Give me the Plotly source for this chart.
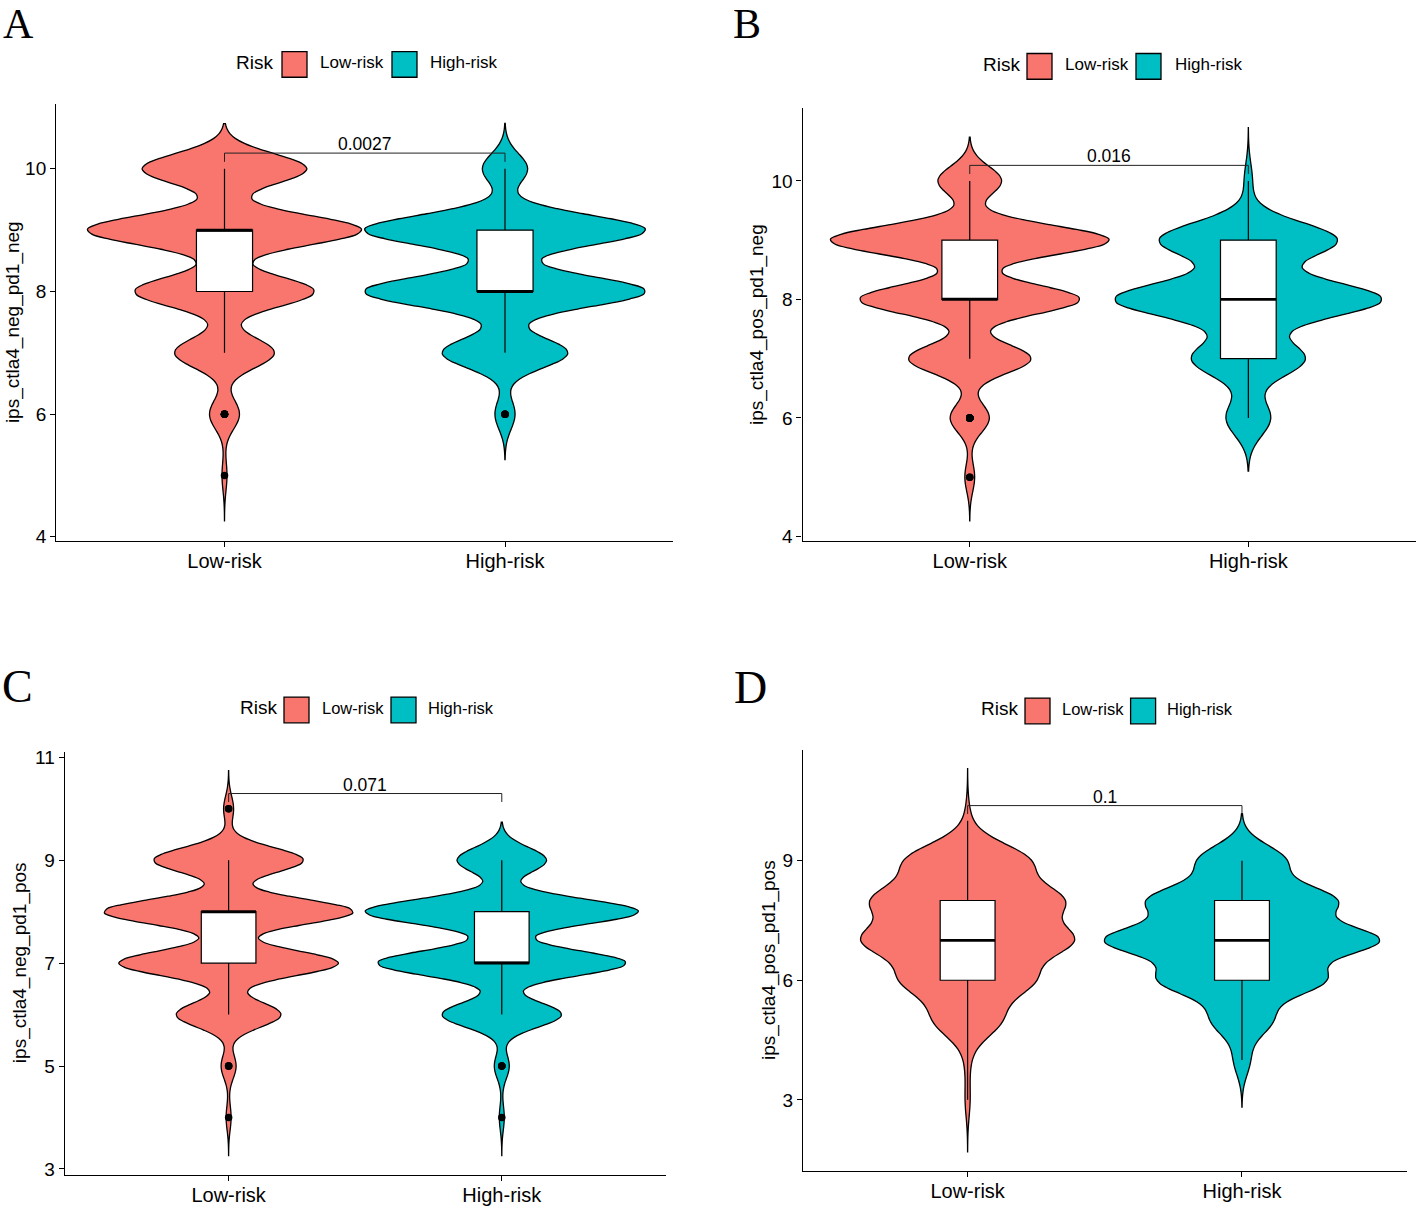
import numpy as np
import plotly.graph_objects as go

# ---------------- data ----------------
categories = ["Low-risk", "High-risk"]
score_levels = [3, 4, 5, 6, 7, 8, 9, 10]

# number of patients at each IPS score (estimated from violin widths / boxes)
a_low_counts = [0, 0, 1, 6, 20, 36, 55, 33]
a_high_counts = [0, 0, 0, 4, 25, 56, 56, 9]
b_low_counts = [0, 0, 2, 8, 25, 45, 57, 13]
b_high_counts = [0, 0, 0, 11, 28, 66, 44, 2]
c_low_counts = [0, 1, 3, 21, 44, 50, 30, 2]
c_high_counts = [0, 1, 3, 24, 50, 55, 18, 0]
d_low_counts = [1, 1, 13, 25, 40, 36, 24, 1]
d_high_counts = [0, 3, 11, 30, 50, 34, 16, 0]

y_titles = ["ips_ctla4_neg_pd1_neg", "ips_ctla4_pos_pd1_neg",
            "ips_ctla4_neg_pd1_pos", "ips_ctla4_pos_pd1_pos"]
p_values = ["0.0027", "0.016", "0.071", "0.1"]
panel_letters = ["A", "B", "C", "D"]
y_tick_starts = [0, 0, 1, 0]
y_tick_steps = [2, 2, 2, 3]

colors = ["#F8766D", "#00BFC4"]

W, H = 1416, 1208

# pixel layout of each panel: plot area x0, x1, y_top, y_bottom
panel_px = [
    (56.2, 673.3, 99.6, 541.0),
    (802.6, 1415.5, 104.0, 541.0),
    (64.7, 665.7, 754.0, 1181.5),
    (803.0, 1406.6, 752.0, 1177.8),
]
# legend geometry: risk-text left, y-center, sq1 x0, label1 left, sq2 x0, label2 left, font
legend_px = [
    (234, 60, 282, 318, 392, 428, 17),
    (981, 62, 1027, 1063, 1136, 1173, 17),
    (238, 712, 284, 319.6, 391, 426, 16.5),
    (979, 713, 1025, 1059.5, 1130.6, 1165, 16.5),
]
ytitle_x = [13, 757.7, 20, 769.7]
letter_px = [(1, 19, 42), (731, 19, 42), (0, 688, 46), (732, 689, 46)]

counts = [(a_low_counts, a_high_counts), (b_low_counts, b_high_counts),
          (c_low_counts, c_high_counts), (d_low_counts, d_high_counts)]


def px_x(x):
    return x / W


def px_y(y):
    return 1 - y / H


def nrd0(v):
    sd = np.std(v, ddof=1)
    q75, q25 = np.percentile(v, [75, 25])
    lo = min(sd, (q75 - q25) / 1.34)
    if lo <= 0:
        lo = sd
    return 0.9 * lo * len(v) ** -0.2


def kde_peak(v, bw, lo, hi):
    g = np.linspace(lo, hi, 3001)
    d = np.exp(-0.5 * ((g[:, None] - v[None, :]) / bw) ** 2).sum(1)
    return (d / (len(v) * bw * np.sqrt(2 * np.pi))).max()


fig = go.Figure()
shapes = []
annotations = []
FONT = "Liberation Sans, Arial, sans-serif"

for i in range(4):
    ax = "" if i == 0 else str(i + 1)
    xref, yref = "x" + ax, "y" + ax
    groups = [np.repeat(score_levels, c).astype(float) for c in counts[i]]
    bws = [nrd0(g) for g in groups]
    spans = [(g.min() - 3 * bw, g.max() + 3 * bw) for g, bw in zip(groups, bws)]
    peaks = [kde_peak(g, bw, s[0], s[1]) for g, bw, s in zip(groups, bws, spans)]
    lo = min(s[0] for s in spans)
    hi = max(s[1] for s in spans)
    pad = 0.05 * (hi - lo)
    yr = [lo - pad, hi + pad]

    for j, (g, bw, s) in enumerate(zip(groups, bws, spans)):
        fig.add_trace(go.Violin(
            y=g, x0=j, name=categories[j], xaxis=xref, yaxis=yref,
            bandwidth=bw, spanmode="manual", span=list(s),
            scalemode="width", width=1.0 * peaks[j] / max(peaks),
            fillcolor=colors[j], opacity=1,
            line=dict(color="black", width=1.3),
            points=False, box_visible=False, meanline_visible=False,
            showlegend=False, hoverinfo="skip"))
    for j, g in enumerate(groups):
        fig.add_trace(go.Box(
            y=g, x0=j, name=categories[j], xaxis=xref, yaxis=yref,
            width=0.2, fillcolor="white",
            line=dict(color="black", width=1.2), whiskerwidth=0,
            boxpoints="outliers", jitter=0, pointpos=0,
            marker=dict(color="black", size=7.5, line=dict(width=0)),
            showlegend=False, hoverinfo="skip"))
        med = float(np.median(g))
        fig.add_trace(go.Scatter(
            x=[j - 0.1, j + 0.1], y=[med, med], mode="lines",
            line=dict(color="black", width=2.8), xaxis=xref, yaxis=yref,
            showlegend=False, hoverinfo="skip"))

    # comparison bracket
    ymax = max(g.max() for g in groups)
    by = ymax + 0.036 * (yr[1] - yr[0])
    tip = 0.02 * (yr[1] - yr[0])
    fig.add_trace(go.Scatter(
        x=[0, 0, 1, 1], y=[by - tip, by, by, by - tip], mode="lines",
        line=dict(color="#222222", width=1), xaxis=xref, yaxis=yref,
        showlegend=False, hoverinfo="skip"))
    annotations.append(dict(
        x=0.5, y=by, xref=xref, yref=yref, text=p_values[i], showarrow=False,
        yanchor="bottom", xanchor="center", yshift=-3,
        font=dict(family=FONT, size=17.5, color="black")))

    x0, x1, yt, yb = panel_px[i]
    fig.update_layout(**{
        "xaxis" + ax: dict(
            domain=[px_x(x0), px_x(x1)], range=[-0.6, 1.6], anchor=yref,
            tickmode="array", tickvals=[0, 1], ticktext=categories,
            showline=True, linecolor="black", linewidth=1.3,
            ticks="outside", ticklen=5, tickwidth=1.2, tickcolor="black",
            ticklabelstandoff=-3,
            showgrid=False, zeroline=False, fixedrange=True,
            tickfont=dict(family=FONT, size=20, color="black")),
        "yaxis" + ax: dict(
            domain=[px_y(yb), px_y(yt)], range=yr, anchor=xref,
            tickmode="linear", tick0=y_tick_starts[i], dtick=y_tick_steps[i],
            showline=True, linecolor="black", linewidth=1.3,
            ticks="outside", ticklen=5, tickwidth=1.2, tickcolor="black",
            showgrid=False, zeroline=False, fixedrange=True,
            tickfont=dict(family=FONT, size=19, color="black")),
    })

    # y-axis title
    annotations.append(dict(
        x=px_x(ytitle_x[i]), y=px_y((yt + yb) / 2), xref="paper", yref="paper",
        text=y_titles[i], textangle=-90, showarrow=False,
        xanchor="center", yanchor="middle",
        font=dict(family=FONT, size=19, color="black")))

    # panel letter
    lx, ly, lsize = letter_px[i]
    annotations.append(dict(
        x=px_x(lx), y=px_y(ly), xref="paper", yref="paper",
        text=panel_letters[i], showarrow=False, xanchor="left", yanchor="middle",
        font=dict(family="Liberation Serif, Times New Roman, serif", size=lsize, color="black")))

    # legend (drawn manually to match large ggplot keys)
    rl, cy, s1, t1, s2, t2, fs = legend_px[i]
    annotations.append(dict(
        x=px_x(rl), y=px_y(cy), xref="paper", yref="paper", text="Risk",
        showarrow=False, xanchor="left", yanchor="middle", yshift=2,
        font=dict(family=FONT, size=19, color="black")))
    for sx, tx, lab, col in [(s1, t1, categories[0], colors[0]),
                             (s2, t2, categories[1], colors[1])]:
        shapes.append(dict(
            type="rect", xref="paper", yref="paper",
            x0=px_x(sx), x1=px_x(sx + 25), y0=px_y(cy - 13), y1=px_y(cy + 13),
            fillcolor=col, line=dict(color="black", width=1.3)))
        annotations.append(dict(
            x=px_x(tx), y=px_y(cy), xref="paper", yref="paper", text=lab,
            showarrow=False, xanchor="left", yanchor="middle", yshift=2,
            font=dict(family=FONT, size=fs, color="black")))

fig.update_layout(
    width=W, height=H, autosize=False,
    margin=dict(l=0, r=0, t=0, b=0),
    paper_bgcolor="white", plot_bgcolor="white",
    violinmode="overlay", boxmode="overlay",
    showlegend=False, shapes=shapes, annotations=annotations,
    font=dict(family=FONT, color="black"),
)

fig.write_html("out.html", config={"displayModeBar": False},
               post_script="document.body.style.margin='0';document.body.style.overflow='hidden';")
